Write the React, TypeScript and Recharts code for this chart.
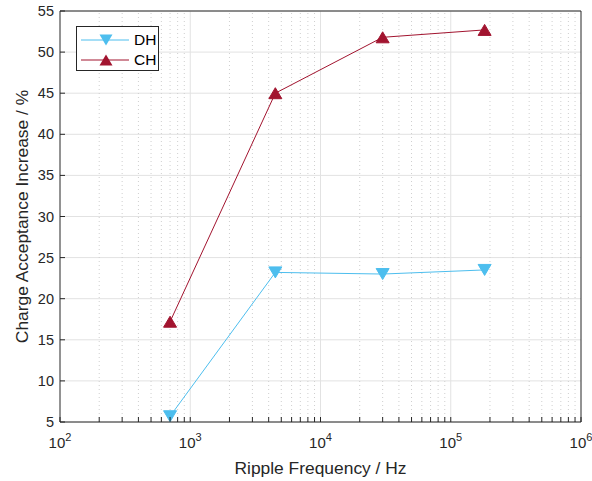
import React from "react";
import {
  ScatterChart,
  Scatter,
  XAxis,
  YAxis,
  CartesianGrid,
  ReferenceLine,
} from "recharts";

// ripple frequency in Hz
const frequencies = [700, 4500, 30000, 182000];
const dhIncrease = [5.7, 23.2, 23.0, 23.5];
const chIncrease = [17.2, 45.0, 51.8, 52.7];

const decadeTicks = [1e2, 1e3, 1e4, 1e5, 1e6];
const minorFactors = [2, 3, 4, 5, 6, 7, 8, 9];
const yTicks = [5, 10, 15, 20, 25, 30, 35, 40, 45, 50, 55];

const DH_COLOR = "#4DBEEE";
const CH_COLOR = "#A2142F";
const AXIS_COLOR = "#262626";
const FONT = "'Liberation Sans', Arial, Helvetica, sans-serif";

const minorTicks = decadeTicks
  .slice(0, -1)
  .flatMap((d) => minorFactors.map((m) => d * m));
const allXTicks = [...decadeTicks, ...minorTicks].sort((a, b) => a - b);

const dhData = frequencies.map((f, i) => ({ f, v: dhIncrease[i] }));
const chData = frequencies.map((f, i) => ({ f, v: chIncrease[i] }));

const series = [
  { name: "DH", color: DH_COLOR, down: true },
  { name: "CH", color: CH_COLOR, down: false },
];

function isDecade(v: number) {
  const e = Math.round(Math.log10(v));
  return Math.abs(Math.pow(10, e) - v) < 1e-6 * v;
}

function triPath(cx: number, cy: number, down: boolean) {
  const w = 6.5;
  const h = 5.5;
  return down
    ? `M${cx - w},${cy - h}L${cx + w},${cy - h}L${cx},${cy + h}Z`
    : `M${cx - w},${cy + h}L${cx + w},${cy + h}L${cx},${cy - h}Z`;
}

function makeShape(color: string, down: boolean) {
  return (props: any) => {
    const { cx, cy } = props;
    if (cx == null || cy == null) return <g />;
    return <path d={triPath(cx, cy, down)} fill={color} stroke={color} />;
  };
}

function BottomTick({ x, y, payload }: any) {
  const v = payload.value;
  const major = isDecade(v);
  const exp = Math.round(Math.log10(v));
  return (
    <g>
      <line x1={x} x2={x} y1={y} y2={y - 5} stroke={AXIS_COLOR} />
      {major && (
        <text
          x={x}
          y={y + 26}
          textAnchor="middle"
          fontSize={15}
          fill={AXIS_COLOR}
          fontFamily={FONT}
        >
          10
          <tspan dy={-7} fontSize={11}>
            {exp}
          </tspan>
        </text>
      )}
    </g>
  );
}

function TopTick({ x, y }: any) {
  return <line x1={x} x2={x} y1={y} y2={y + 5} stroke={AXIS_COLOR} />;
}

function LeftTick({ x, y, payload }: any) {
  return (
    <g>
      <line x1={x} x2={x + 5} y1={y} y2={y} stroke={AXIS_COLOR} />
      <text
        x={x - 6}
        y={y + 5}
        textAnchor="end"
        fontSize={14.5}
        fill={AXIS_COLOR}
        fontFamily={FONT}
      >
        {payload.value}
      </text>
    </g>
  );
}

function RightTick({ x, y }: any) {
  return <line x1={x} x2={x - 5} y1={y} y2={y} stroke={AXIS_COLOR} />;
}

function LegendBox() {
  return (
    <div
      style={{
        position: "absolute",
        left: 76,
        top: 26,
        width: 83,
        height: 45,
        border: `1px solid ${AXIS_COLOR}`,
        background: "#fff",
        boxSizing: "border-box",
        fontFamily: FONT,
        fontSize: 15.5,
        color: "#000",
      }}
    >
      {series.map((s, i) => (
        <div
          key={s.name}
          style={{
            position: "absolute",
            left: 4,
            top: 3 + i * 20,
            height: 20,
            display: "flex",
            alignItems: "center",
          }}
        >
          <svg width={50} height={20}>
            <line x1={0} x2={48} y1={10} y2={10} stroke={s.color} />
            <path d={triPath(25, 10, s.down)} fill={s.color} />
          </svg>
          <span style={{ marginLeft: 3 }}>{s.name}</span>
        </div>
      ))}
    </div>
  );
}

export default function App() {
  return (
    <div
      style={{
        position: "absolute",
        left: 0,
        top: 0,
        width: 592,
        height: 481,
        background: "#fff",
      }}
    >
      <ScatterChart
        width={592}
        height={481}
        margin={{ top: 0, right: 0, bottom: 0, left: 0 }}
      >
        <XAxis
          xAxisId="bottom"
          dataKey="f"
          type="number"
          scale="log"
          domain={[100, 1e6]}
          ticks={allXTicks}
          interval={0}
          height={59}
          tickSize={0}
          tickMargin={0}
          tickLine={false}
          axisLine={{ stroke: AXIS_COLOR }}
          tick={<BottomTick />}
          allowDataOverflow
          label={(props: any) => {
            const vb = props.viewBox;
            return (
              <text
                x={vb.x + vb.width / 2}
                y={474}
                textAnchor="middle"
                fontSize={17.4}
                fill={AXIS_COLOR}
                fontFamily={FONT}
              >
                Ripple Frequency / Hz
              </text>
            );
          }}
        />
        <XAxis
          xAxisId="top"
          orientation="top"
          type="number"
          scale="log"
          domain={[100, 1e6]}
          ticks={allXTicks}
          interval={0}
          height={11}
          tickSize={0}
          tickMargin={0}
          tickLine={false}
          axisLine={{ stroke: AXIS_COLOR }}
          tick={<TopTick />}
          allowDataOverflow
        />
        <YAxis
          yAxisId="left"
          dataKey="v"
          type="number"
          domain={[5, 55]}
          ticks={yTicks}
          interval={0}
          width={60}
          tickSize={0}
          tickMargin={0}
          tickLine={false}
          axisLine={{ stroke: AXIS_COLOR }}
          tick={<LeftTick />}
          label={(props: any) => {
            const vb = props.viewBox;
            const cy = vb.y + vb.height / 2;
            return (
              <text
                x={28}
                y={cy}
                transform={`rotate(-90 28 ${cy})`}
                textAnchor="middle"
                fontSize={17.4}
                fill={AXIS_COLOR}
                fontFamily={FONT}
              >
                Charge Acceptance Increase / %
              </text>
            );
          }}
        />
        <YAxis
          yAxisId="right"
          orientation="right"
          type="number"
          domain={[5, 55]}
          ticks={yTicks}
          interval={0}
          width={11}
          tickSize={0}
          tickMargin={0}
          tickLine={false}
          axisLine={{ stroke: AXIS_COLOR }}
          tick={<RightTick />}
        />
        <CartesianGrid
          xAxisId="bottom"
          yAxisId="left"
          vertical={false}
          stroke="#e2e2e2"
        />
        {minorTicks.map((t) => (
          <ReferenceLine
            key={`m${t}`}
            x={t}
            xAxisId="bottom"
            yAxisId="left"
            stroke="#cfcfcf"
            strokeDasharray="1 3"
          />
        ))}
        {decadeTicks.slice(1, -1).map((t) => (
          <ReferenceLine
            key={`d${t}`}
            x={t}
            xAxisId="bottom"
            yAxisId="left"
            stroke="#e2e2e2"
          />
        ))}
        <Scatter
          name="DH"
          data={dhData}
          xAxisId="bottom"
          yAxisId="left"
          fill={DH_COLOR}
          line={{ stroke: DH_COLOR, strokeWidth: 1 }}
          shape={makeShape(DH_COLOR, true)}
          isAnimationActive={false}
        />
        <Scatter
          name="CH"
          data={chData}
          xAxisId="bottom"
          yAxisId="left"
          fill={CH_COLOR}
          line={{ stroke: CH_COLOR, strokeWidth: 1 }}
          shape={makeShape(CH_COLOR, false)}
          isAnimationActive={false}
        />
      </ScatterChart>
      <LegendBox />
    </div>
  );
}
